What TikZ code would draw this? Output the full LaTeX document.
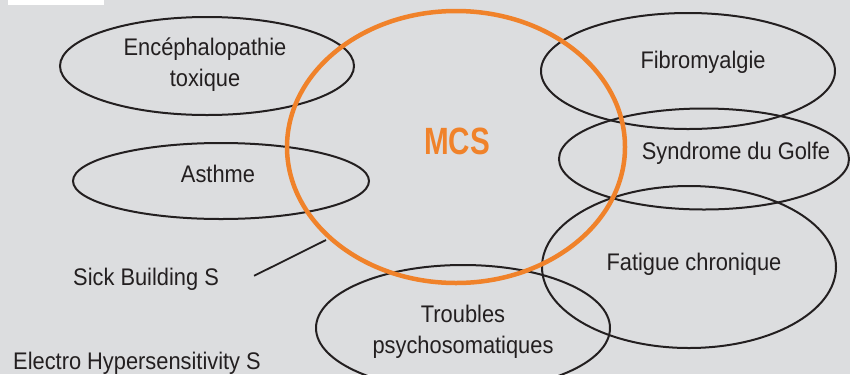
\documentclass[tikz,border=0pt]{standalone}
\usepackage{fontspec}
\setmainfont{Liberation Sans}[FakeStretch=0.91]
\newfontfamily\mcsfont{Liberation Sans}[FakeStretch=0.78]
\usetikzlibrary{shapes.geometric}
\definecolor{bgray}{HTML}{DCDDDF}
\definecolor{ink}{HTML}{231F20}
\definecolor{mcsorange}{HTML}{F0822A}
\begin{document}
\begin{tikzpicture}[x=1bp, y=-1bp,
  blob/.style={ellipse, draw=ink, line width=2bp, inner sep=0pt, outer sep=0pt},
  lbl/.style={text=ink, align=center, inner sep=0pt, font=\fontsize{24bp}{31bp}\selectfont}]

  % Background
  \useasboundingbox (0,0) rectangle (850,374);
  \clip (0,0) rectangle (850,374);
  \fill[bgray] (0,0) rectangle (850,374);
  \fill[white] (8,0) rectangle (104,5);

  % Ellipses (syndromes)
  \node[blob, minimum width=294bp, minimum height=98bp] (ence) at (207,66) {};
  \node[blob, minimum width=296bp, minimum height=76bp] (asth) at (221,181) {};
  \node[blob, minimum width=294bp, minimum height=116bp] (fibro) at (688,71) {};
  \node[blob, minimum width=290bp, minimum height=101bp] (golfe) at (704,159) {};
  \node[blob, minimum width=294bp, minimum height=162bp] (fatig) at (689,267) {};
  \node[blob, minimum width=294bp, minimum height=126bp] (troub) at (463,328) {};

  % MCS circle on top
  \node[ellipse, draw=mcsorange, line width=4.5bp, inner sep=0pt,
        minimum width=338bp, minimum height=272bp] (mcs) at (456,147) {};

  % Labels
  \node[lbl] (tence) at (205,65) {Encéphalopathie\\toxique};
  \node[lbl, anchor=base] (tasth) at (218,182) {Asthme};
  \node[lbl, anchor=base] (tfibro) at (703,68) {Fibromyalgie};
  \node[lbl, anchor=base] (tgolfe) at (736,159) {Syndrome du Golfe};
  \node[lbl, anchor=base] (tfatig) at (694,270) {Fatigue chronique};
  \node[lbl] (ttroub) at (463,332) {Troubles\\psychosomatiques};
  \node[anchor=base, text=mcsorange, inner sep=0pt,
        font=\mcsfont\bfseries\fontsize{38bp}{38bp}\selectfont] (tmcs) at (457,154) {MCS};

  % Outside labels
  \node[lbl, anchor=base west] (sbs) at (73,285) {Sick Building S};
  \node[lbl, anchor=base west] (ehs) at (13,369) {Electro Hypersensitivity S};
  \coordinate (sbsend) at (326,240);
  \draw[ink, line width=1.8bp] ([shift={(35,-3)}]sbs.east) -- (sbsend);

\end{tikzpicture}
\end{document}
